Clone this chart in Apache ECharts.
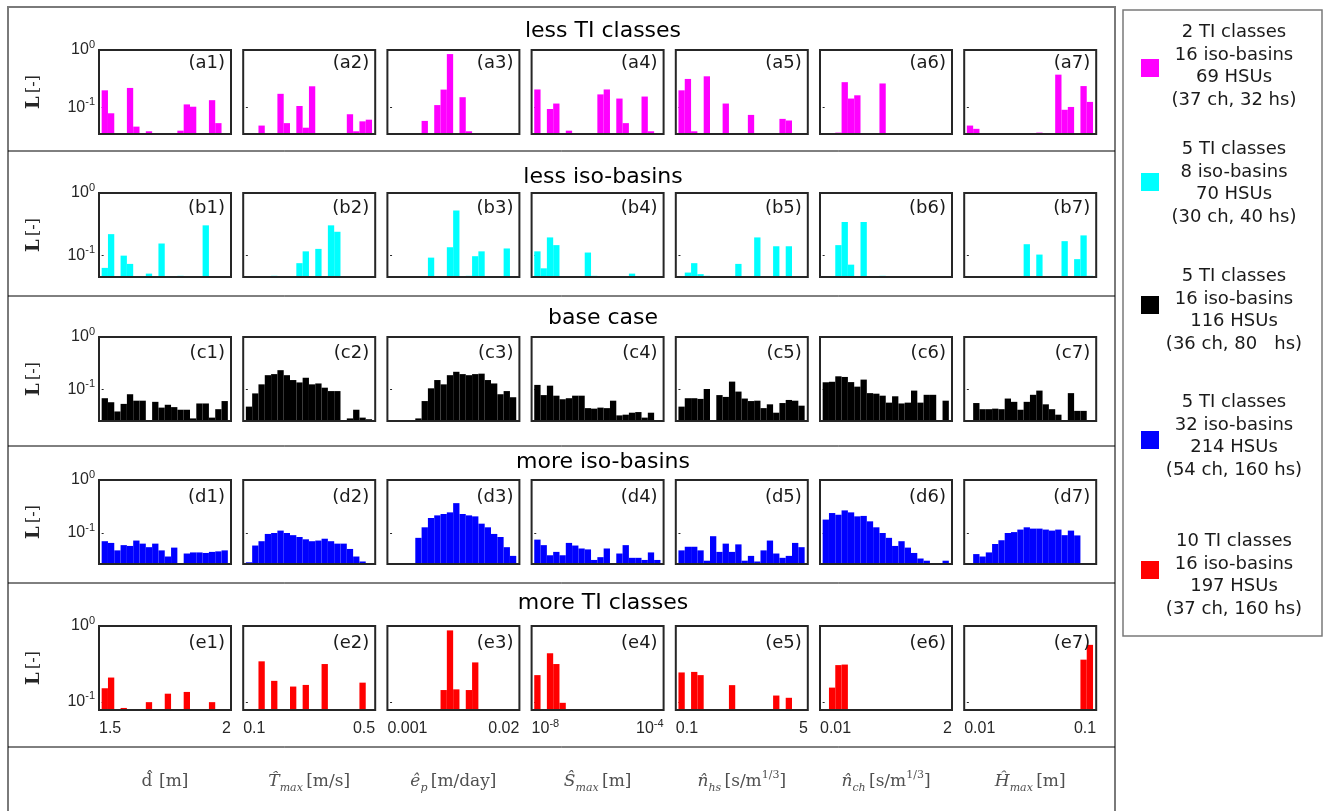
<!DOCTYPE html>
<html><head><meta charset="utf-8">
<script src="https://cdn.jsdelivr.net/npm/echarts@6/dist/echarts.min.js"></script>
<style>html,body{margin:0;padding:0;background:#fff}#c{width:1323px;height:811px}</style>
</head><body><div id="c"></div>
<script>
// ---------------- data ----------------
const rowTitles = ['less TI classes', 'less iso-basins', 'base case', 'more iso-basins', 'more TI classes'];
const rowTags = ['a', 'b', 'c', 'd', 'e'];
const caseColors = ['#ff00ff', '#00ffff', '#000000', '#0000ff', '#ff0000'];
const caseLabels = [
  '2 TI classes\n16 iso-basins\n69 HSUs\n(37 ch, 32 hs)',
  '5 TI classes\n8 iso-basins\n70 HSUs\n(30 ch, 40 hs)',
  '5 TI classes\n16 iso-basins\n116 HSUs\n(36 ch, 80   hs)',
  '5 TI classes\n32 iso-basins\n214 HSUs\n(54 ch, 160 hs)',
  '10 TI classes\n16 iso-basins\n197 HSUs\n(37 ch, 160 hs)'
];
const yMinByRow = [0.035, 0.045, 0.025, 0.026, 0.078];
const xTickLabels = [['1.5', '2'], ['0.1', '0.5'], ['0.001', '0.02'], ['10^-8', '10^-4'], ['0.1', '5'], ['0.01', '2'], ['0.01', '0.1']];
const xAxisNames = [
  '{r|d\u0302}  {u|[m]}',
  '{i|T\u0302}{sub|max} {u|[m/s]}',
  '{i|\u00ea}{sub|p} {u|[m/day]}',
  '{i|\u015c}{sub|max} {u|[m]}',
  '{i|n\u0302}{sub|hs} {u|[s/m}{sup|1/3}{u|]}',
  '{i|n\u0302}{sub|ch} {u|[s/m}{sup|1/3}{u|]}',
  '{i|\u0124}{sub|max} {u|[m]}'
];

// histogram heights L [-] per bin (20 bins per panel)
const a1 = [0.2,0.08,0,0,0.22,0.047,0,0.039,0,0,0,0,0.04,0.114,0.104,0,0,0.135,0.054,0];
const a2 = [0,0,0.049,0,0,0.174,0.054,0,0.107,0.045,0.235,0,0,0,0,0,0.077,0.039,0.058,0.062];
const a3 = [0,0,0,0,0,0.059,0,0.111,0.206,0.85,0,0.152,0.039,0,0,0,0,0,0,0];
const a4 = [0.207,0,0.095,0.118,0,0.04,0,0,0,0,0.17,0.207,0,0.144,0.054,0,0,0.156,0.039,0];
const a5 = [0.2,0.315,0.039,0,0.35,0,0,0.118,0,0,0,0.075,0,0,0,0,0.064,0.06,0,0];
const a6 = [0,0,0.037,0.277,0.144,0.164,0,0,0,0.263,0,0,0,0,0,0,0,0,0,0];
const a7 = [0.049,0.043,0,0,0,0,0,0,0,0,0,0.037,0,0,0.374,0.092,0.103,0,0.237,0.126];

const b1 = [0.063,0.219,0,0.099,0.073,0,0,0.051,0,0.155,0,0,0.047,0,0,0,0.303,0,0,0];
const b2 = [0,0,0,0,0.047,0,0,0,0.075,0.116,0,0.127,0,0.303,0.239,0,0,0,0,0];
const b3 = [0,0,0,0,0,0,0.092,0,0,0.135,0.524,0,0.047,0.097,0.116,0,0,0,0.129,0];
const b4 = [0.116,0.062,0.194,0.146,0,0,0,0,0.111,0.047,0,0,0,0,0,0.051,0,0,0,0];
const b5 = [0,0.053,0.075,0.05,0.047,0,0,0,0,0.073,0,0,0.194,0,0,0.14,0,0.14,0,0];
const b6 = [0,0,0.146,0.343,0.071,0,0.343,0,0,0.047,0,0,0,0,0,0,0,0,0,0];
const b7 = [0,0,0,0,0,0,0,0,0,0.151,0,0.103,0,0,0,0.169,0,0.087,0.209,0.047];

const c1 = [0.068,0.057,0.038,0.053,0.081,0.061,0.061,0,0.058,0.045,0.051,0.046,0.041,0.041,0.028,0.054,0.054,0.029,0.042,0.06];
const c2 = [0.047,0.084,0.125,0.187,0.196,0.233,0.187,0.151,0.136,0.167,0.125,0.13,0.108,0.093,0.093,0,0.028,0.041,0.029,0.027];
const c3 = [0,0,0,0,0.028,0.06,0.105,0.151,0.125,0.187,0.217,0.196,0.187,0.196,0.2,0.151,0.13,0.081,0.093,0.071];
const c4 = [0.122,0.078,0.118,0.076,0.065,0.068,0.076,0.076,0.044,0.043,0.045,0.044,0.061,0.032,0.033,0.036,0.037,0.029,0.036,0];
const c5 = [0.047,0.068,0.068,0.066,0.102,0,0.078,0.072,0.141,0.091,0.067,0.06,0.061,0.044,0.052,0.036,0.055,0.063,0.061,0.049];
const c6 = [0.137,0.14,0.178,0.173,0.138,0.113,0.154,0.085,0.083,0.076,0.056,0.074,0.054,0.056,0.095,0.056,0.079,0.079,0,0.061];
const c7 = [0.026,0.055,0.042,0.042,0.043,0.042,0.067,0.058,0.041,0.058,0.079,0.095,0.052,0.042,0.033,0,0.085,0.039,0.039,0.026];

const d1 = [0.07,0.065,0.047,0.059,0.057,0.072,0.063,0.054,0.063,0.047,0.036,0.053,0.027,0.041,0.043,0.043,0.042,0.044,0.045,0.047];
const d2 = [0.028,0.058,0.07,0.096,0.1,0.111,0.1,0.091,0.084,0.076,0.07,0.072,0.078,0.07,0.063,0.063,0.05,0.036,0.029,0];
const d3 = [0,0,0,0.027,0.081,0.128,0.192,0.215,0.228,0.245,0.366,0.228,0.215,0.206,0.15,0.128,0.096,0.084,0.054,0.037];
const d4 = [0.075,0.059,0.038,0.044,0.038,0.065,0.058,0.051,0.049,0.031,0.035,0.051,0.027,0.041,0.059,0.034,0.034,0.031,0.043,0.031];
const d5 = [0.047,0.055,0.055,0.047,0.03,0.087,0.044,0.063,0.044,0.061,0.03,0.037,0.029,0.047,0.072,0.041,0.034,0.037,0.065,0.054];
const d6 = [0.179,0.238,0.221,0.267,0.245,0.206,0.21,0.166,0.128,0.1,0.081,0.057,0.07,0.053,0.042,0.033,0.03,0.027,0,0.03];
const d7 = [0.027,0.04,0.036,0.043,0.062,0.073,0.1,0.104,0.116,0.128,0.121,0.121,0.116,0.111,0.116,0.091,0.111,0.09,0,0];

const e1 = [0.151,0.209,0,0.083,0,0,0,0.099,0,0,0.128,0,0,0.135,0,0,0,0.099,0,0.08];
const e2 = [0,0,0.342,0,0.189,0,0.08,0.159,0,0.167,0,0,0.315,0,0,0,0,0,0.179,0];
const e3 = [0,0,0,0,0,0,0,0,0.143,0.875,0.146,0,0.143,0.331,0,0,0.08,0,0,0];
const e4 = [0.225,0.079,0.437,0.315,0.097,0,0,0,0,0,0,0,0,0,0,0,0,0,0,0];
const e5 = [0.244,0.08,0.248,0.225,0,0,0,0,0.166,0,0,0,0,0,0,0.121,0,0.113,0,0];
const e6 = [0.08,0.154,0.305,0.31,0,0,0,0,0,0,0,0,0,0,0,0,0,0,0,0];
const e7 = [0,0,0,0,0,0,0,0,0,0,0,0,0,0,0,0,0,0.08,0.36,0.564];

const rows = [
  [a1, a2, a3, a4, a5, a6, a7],
  [b1, b2, b3, b4, b5, b6, b7],
  [c1, c2, c3, c4, c5, c6, c7],
  [d1, d2, d3, d4, d5, d6, d7],
  [e1, e2, e3, e4, e5, e6, e7]
];

// ---------------- layout ----------------
const X_MIN = -0.42, X_MAX = 20.5;
const PANEL_W = 132, PANEL_H = 84;
const colLeft = c => 99 + c * 144.2;
const rowTop = [50, 193, 337, 480, 626];
const titleY = [31, 177, 318, 462, 603];
const tagDy = [13, 15, 16, 17, 17];
const sepY = [151, 296, 446, 583, 747];
const legSquareY = [59, 173, 296, 431, 561];
const legTextY = [66.5, 183.5, 310.5, 436.5, 575.5];

const DARK = '#262626';
const supRich = {
  b: {fontFamily: 'Liberation Sans', fontSize: 16, color: DARK, lineHeight: 22, verticalAlign: 'middle'},
  s: {fontFamily: 'Liberation Sans', fontSize: 11, color: DARK, lineHeight: 11, verticalAlign: 'top'}
};
function supText(t) {
  if (t.indexOf('^') >= 0) { const p = t.split('^'); return '{b|' + p[0] + '}{s|' + p[1] + '}'; }
  return '{b|' + t + '}';
}
function makeRender(ymin, color) {
  return function (params, api) {
    const i = api.value(0), v = api.value(1);
    const p0 = api.coord([i, v]);
    const p1 = api.coord([i + 1, ymin]);
    return {type: 'rect', shape: {x: p0[0], y: p0[1], width: p1[0] - p0[0], height: p1[1] - p0[1]}, style: {fill: color}};
  };
}

const grids = [], xAxes = [], yAxes = [], series = [], graphics = [];
for (let r = 0; r < 5; r++) {
  for (let c = 0; c < 7; c++) {
    const idx = r * 7 + c;
    const left = colLeft(c), top = rowTop[r];
    grids.push({left: left, top: top, width: PANEL_W, height: PANEL_H, show: true, borderColor: DARK, borderWidth: 2, backgroundColor: 'transparent', z: 10});
    const labs = xTickLabels[c];
    xAxes.push({
      type: 'value', gridIndex: idx, min: X_MIN, max: X_MAX,
      axisLine: {show: false}, splitLine: {show: false}, axisTick: {show: false},
      axisLabel: r === 4 ? {
        show: true, customValues: [X_MIN, X_MAX], margin: 8,
        alignMinLabel: 'left', alignMaxLabel: 'right',
        formatter: v => supText(Math.abs(v - X_MIN) < 1e-6 ? labs[0] : labs[1]),
        rich: supRich
      } : {show: false},
      name: r === 4 ? xAxisNames[c] : '', nameLocation: 'middle', nameGap: 60,
      nameTextStyle: {
        rich: {
          r: {fontFamily: 'DejaVu Serif', fontSize: 17, color: '#505050', lineHeight: 24},
          i: {fontFamily: 'DejaVu Serif', fontStyle: 'italic', fontSize: 17, color: '#505050', lineHeight: 24},
          u: {fontFamily: 'DejaVu Serif', fontSize: 17, color: '#505050', lineHeight: 24},
          sub: {fontFamily: 'DejaVu Serif', fontStyle: 'italic', fontSize: 11, color: '#505050', lineHeight: 11, verticalAlign: 'bottom'},
          sup: {fontFamily: 'DejaVu Serif', fontSize: 11, color: '#505050', lineHeight: 11, verticalAlign: 'top'}
        }
      }
    });
    yAxes.push({
      type: 'log', logBase: 10, gridIndex: idx, min: yMinByRow[r], max: 1,
      axisLine: {show: false}, splitLine: {show: false},
      axisTick: {show: true, inside: true, length: 2, lineStyle: {color: DARK}},
      axisLabel: c === 0 ? {
        show: true, margin: 4, rich: supRich,
        formatter: v => Math.abs(v - 1) < 1e-6 ? '{b|10}{s|0}' : (Math.abs(v - 0.1) < 1e-6 ? '{b|10}{s|-1}' : '')
      } : {show: false},
      name: c === 0 ? '{l|L} {u|[-]}' : '', nameLocation: 'middle', nameRotate: 90, nameGap: 56,
      nameTextStyle: {rich: {
        l: {fontFamily: 'DejaVu Serif', fontWeight: 'bold', fontSize: 18, color: DARK},
        u: {fontFamily: 'DejaVu Serif', fontSize: 16, color: DARK}
      }}
    });
    const data = rows[r][c].map((v, i) => [i, v]).filter(d => d[1] > 0);
    series.push({
      type: 'custom', name: caseLabels[r], xAxisIndex: idx, yAxisIndex: idx, clip: true,
      itemStyle: {color: caseColors[r]}, data: data, renderItem: makeRender(yMinByRow[r], caseColors[r]), z: 2
    });
    graphics.push({type: 'text', x: left + PANEL_W - 6, y: top + tagDy[r], z: 20,
      style: {text: '(' + rowTags[r] + (c + 1) + ')', align: 'right', verticalAlign: 'middle', font: '18px "DejaVu Sans"', fill: '#1a1a1a'}});
  }
  graphics.push({type: 'text', x: 603, y: titleY[r], z: 20,
    style: {text: rowTitles[r], align: 'center', verticalAlign: 'middle', font: '22px "DejaVu Sans"', fill: '#000'}});
}
// outer frames and separators
graphics.push({type: 'rect', z: 5, shape: {x: 8, y: 7, width: 1107, height: 812}, style: {fill: 'none', stroke: '#7a7a7a', lineWidth: 2}});
sepY.forEach(y => graphics.push({type: 'line', z: 5, shape: {x1: 8, y1: y, x2: 1115, y2: y}, style: {stroke: '#000', lineWidth: 1}}));
graphics.push({type: 'rect', z: 5, shape: {x: 1123, y: 10, width: 199, height: 626}, style: {fill: '#fff', stroke: '#7a7a7a', lineWidth: 1.5}});
for (let k = 0; k < 5; k++) {
  graphics.push({type: 'rect', z: 6, shape: {x: 1141, y: legSquareY[k], width: 18, height: 18}, style: {fill: caseColors[k]}});
  graphics.push({type: 'text', z: 6, x: 1234, y: legTextY[k],
    style: {text: caseLabels[k], align: 'center', verticalAlign: 'middle', font: '18px "DejaVu Sans"', lineHeight: 22.5, fill: '#1a1a1a'}});
}

const chart = echarts.init(document.getElementById('c'), null, {renderer: 'canvas'});
chart.setOption({
  animation: false,
  backgroundColor: '#fff',
  grid: grids, xAxis: xAxes, yAxis: yAxes, series: series,
  graphic: {elements: graphics}
});
</script>
</body></html>
